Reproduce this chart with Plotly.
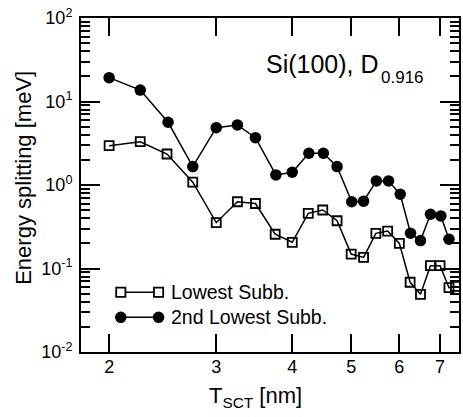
import plotly.graph_objects as go
import math

# ---- data ----
x_lowest = [2.0, 2.25, 2.49, 2.745, 3.0, 3.25, 3.48, 3.75, 4.0, 4.25, 4.49, 4.74,
            5.0, 5.24, 5.49, 5.74, 6.0, 6.25, 6.5, 6.75, 7.0, 7.24, 7.42]
y_lowest = [2.96, 3.30, 2.35, 1.08, 0.354, 0.63, 0.60, 0.257, 0.206, 0.458, 0.502, 0.373,
            0.149, 0.136, 0.264, 0.281, 0.200, 0.0684, 0.0491, 0.108, 0.108, 0.0589, 0.061]

x_second = [2.0, 2.25, 2.5, 2.745, 3.0, 3.25, 3.48, 3.76, 4.0, 4.26, 4.5, 4.74,
            5.01, 5.24, 5.5, 5.76, 6.02, 6.26, 6.5, 6.75, 7.02, 7.24]
y_second = [19.3, 13.7, 5.64, 1.66, 4.86, 5.24, 3.69, 1.32, 1.42, 2.40, 2.40, 1.66,
            0.631, 0.64, 1.12, 1.12, 0.774, 0.264, 0.216, 0.446, 0.426, 0.224]

x_ticks = [2, 3, 4, 5, 6, 7]
y_ticks = [0.01, 0.1, 1, 10, 100]
y_ticktext = ["10<sup>-2</sup>", "10<sup>-1</sup>", "10<sup>0</sup>", "10<sup>1</sup>", "10<sup>2</sup>"]
y_minor = [m * 10.0 ** e for e in range(-2, 2) for m in range(2, 10)]

series_names = ["Lowest Subb.", "2nd Lowest Subb."]

# ---- layout geometry ----
W, H = 463, 417
L, R, T, B = 81, 2, 18, 65
PW, PH = W - L - R, H - T - B
FONT = "Liberation Sans, Arial, Helvetica, sans-serif"
X_RANGE = [math.log10(1.798), math.log10(7.52)]
Y_RANGE = [-2, 2]

def px(xp):
    return (xp - L) / PW

def py(yp):
    return (H - B - yp) / PH

sq_marker = dict(symbol="square-open", size=9, color="black", line=dict(width=1.8, color="black"))
ci_marker = dict(symbol="circle", size=11.5, color="black")
line_style = dict(color="black", width=1.5)

fig = go.Figure()
fig.add_trace(go.Scatter(x=x_lowest, y=y_lowest, mode="lines+markers",
                         marker=sq_marker, line=line_style, name=series_names[0],
                         showlegend=False, cliponaxis=False))
fig.add_trace(go.Scatter(x=x_second, y=y_second, mode="lines+markers",
                         marker=ci_marker, line=line_style, name=series_names[1],
                         showlegend=False, cliponaxis=False))
# empty trace so the mirror (top/right) tick axes are drawn
fig.add_trace(go.Scatter(x=[None], y=[None], xaxis="x2", yaxis="y2",
                         showlegend=False, hoverinfo="skip"))

# manual legend (line with a marker at each end)
leg_x = [121, 159]
leg_rows = [292.3, 317.3]
shapes = []
for i, row in enumerate(leg_rows):
    shapes.append(dict(type="line", xref="paper", yref="paper",
                       x0=px(leg_x[0]), x1=px(leg_x[1]), y0=py(row), y1=py(row),
                       line=dict(color="black", width=1.5)))
    for xp in leg_x:
        if i == 0:
            shapes.append(dict(type="rect", xref="paper", yref="paper",
                               xsizemode="pixel", ysizemode="pixel",
                               xanchor=px(xp), yanchor=py(row),
                               x0=-4.6, x1=4.6, y0=-4.6, y1=4.6,
                               fillcolor="white", line=dict(color="black", width=1.8)))
        else:
            shapes.append(dict(type="circle", xref="paper", yref="paper",
                               xsizemode="pixel", ysizemode="pixel",
                               xanchor=px(xp), yanchor=py(row),
                               x0=-5.8, x1=5.8, y0=-5.8, y1=5.8,
                               fillcolor="black", line=dict(color="black", width=0)))

annotations = []
for name, row in zip(series_names, leg_rows):
    annotations.append(dict(x=px(169), y=py(row), xref="paper", yref="paper",
                            text=name, showarrow=False, xanchor="left", yanchor="middle",
                            font=dict(family=FONT, size=19.5, color="black")))
annotations.append(dict(x=px(265), y=py(64), xref="paper", yref="paper",
                        text="Si(100), D", showarrow=False, xanchor="left", yanchor="middle",
                        font=dict(family=FONT, size=25, color="black")))
annotations.append(dict(x=px(380.5), y=py(77.5), xref="paper", yref="paper",
                        text="0.916", showarrow=False, xanchor="left", yanchor="middle",
                        font=dict(family=FONT, size=17, color="black")))
annotations.append(dict(x=-(L - 22.5) / PW, y=py(178), xref="paper", yref="paper",
                        text="Energy splitting [meV]", showarrow=False, textangle=-90,
                        xanchor="center", yanchor="middle",
                        font=dict(family=FONT, size=22, color="black")))
annotations.append(dict(x=px(256), y=py(397), xref="paper", yref="paper",
                        text="T<sub>SCT</sub> [nm]", showarrow=False,
                        xanchor="center", yanchor="middle",
                        font=dict(family=FONT, size=22, color="black")))

common_tick = dict(ticks="inside", tickwidth=2, tickcolor="black",
                   showgrid=False, zeroline=False)

fig.update_layout(
    width=W, height=H,
    margin=dict(l=L, r=R, t=T, b=B, pad=0),
    paper_bgcolor="white", plot_bgcolor="white",
    font=dict(family=FONT, size=18, color="black"),
    showlegend=False,
    annotations=annotations,
    shapes=shapes,
    xaxis=dict(type="log", range=X_RANGE,
               tickvals=x_ticks, ticktext=[str(v) for v in x_ticks], ticklen=18,
               showline=True, linewidth=2, linecolor="black", mirror=True,
               ticklabelstandoff=-3,
               tickfont=dict(family=FONT, size=18, color="black"), **common_tick),
    yaxis=dict(type="log", range=Y_RANGE,
               tickvals=y_ticks, ticktext=y_ticktext, ticklen=19,
               minor=dict(tickvals=y_minor, ticks="inside", ticklen=9, tickwidth=2,
                          tickcolor="black", showgrid=False),
               showline=True, linewidth=2, linecolor="black", mirror=True,
               ticklabelstandoff=3,
               tickfont=dict(family=FONT, size=18, color="black"), **common_tick),
    xaxis2=dict(type="log", range=X_RANGE, overlaying="x", side="top", anchor="y2",
                tickvals=x_ticks, ticklen=18, showticklabels=False, fixedrange=True,
                showline=False, **common_tick),
    yaxis2=dict(type="log", range=Y_RANGE, overlaying="y", side="right", anchor="x2",
                tickvals=y_ticks, ticklen=19, showticklabels=False, fixedrange=True,
                minor=dict(tickvals=y_minor, ticks="inside", ticklen=9, tickwidth=2,
                           tickcolor="black", showgrid=False),
                showline=False, **common_tick),
)

fig.write_html("out.html")
